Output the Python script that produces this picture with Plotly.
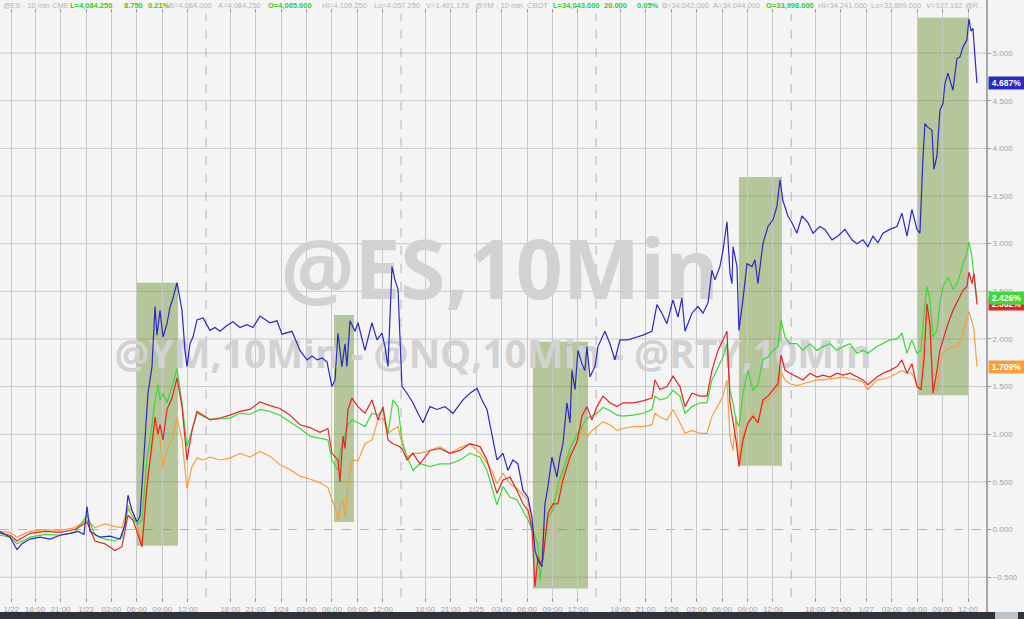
import plotly.graph_objects as go

# ---- time axis: trading hours since 1/23 00:00 (the 17:00-18:00 break is removed) ----
x_tick_hours = [-8.8, -6, -3, 0, 3, 6, 9, 12, 17, 20, 23, 26, 29, 32, 35, 40, 43, 46, 49, 52, 55, 58,
                63, 66, 69, 72, 75, 78, 81, 86, 89, 92, 95, 98, 101, 104]
x_tick_labels = ["1/22", "18:00", "21:00", "1/23", "03:00", "06:00", "09:00", "12:00", "18:00", "21:00",
                 "1/24", "03:00", "06:00", "09:00", "12:00", "18:00", "21:00",
                 "1/25", "03:00", "06:00", "09:00", "12:00", "18:00", "21:00",
                 "1/26", "03:00", "06:00", "09:00", "12:00", "18:00", "21:00",
                 "1/27", "03:00", "06:00", "09:00", "12:00"]
session_break_hours = [14.15, 37.15, 60.15, 83.15]
y_tick_values = [-0.5, 0.0, 0.5, 1.0, 1.5, 2.0, 2.5, 3.0, 3.5, 4.0, 4.5, 5.0]

# ---- @ES (blue) ----
es_hours = [-10.14, -9.55, -8.96, -8.14, -7.55, -6.60, -5.42, -4.24, -3.07, -1.89, -0.94, -0.24, 0.12, 0.47,
            1.06, 1.65, 2.83, 4.01, 4.60, 4.95, 5.42, 6.01, 6.37, 6.72, 7.07, 7.31, 7.78, 8.14, 8.37, 8.73,
            9.08, 9.55, 9.90, 10.26, 10.73, 11.32, 11.67, 11.91, 12.26, 12.62, 13.09, 13.80, 14.62, 15.21,
            15.80, 16.62, 17.33, 18.16, 18.98, 19.69, 20.52, 21.69, 22.52, 23.11, 24.29, 25.23, 26.06, 26.65,
            27.24, 27.83, 28.42, 29.00, 29.36, 29.71, 30.18, 30.54, 30.77, 31.13, 31.72, 32.07, 32.89, 33.72,
            34.31, 34.90, 35.25, 35.61, 36.08, 36.43, 36.79, 37.26, 37.85, 38.55, 39.14, 39.73, 40.56, 41.38,
            42.33, 43.27, 44.45, 45.27, 46.10, 46.69, 47.28, 47.87, 48.46, 49.17, 49.75, 50.34, 50.93, 51.52,
            52.11, 52.58, 52.94, 53.29, 53.76, 54.12, 54.47, 54.94, 55.53, 55.89, 56.24, 56.71, 57.07, 57.30,
            57.66, 58.01, 58.48, 58.83, 59.07, 59.42, 60.01, 60.37, 61.19, 61.78, 62.37, 62.96, 63.90, 64.97,
            65.67, 66.73, 67.32, 67.91, 68.50, 69.21, 69.80, 70.27, 70.63, 71.45, 72.16, 72.75, 73.34, 73.81,
            74.16, 74.75, 75.11, 75.58, 75.93, 76.17, 76.29, 76.76, 76.99, 77.46, 77.94, 78.53, 78.88, 79.23,
            79.82, 80.41, 81.00, 81.47, 81.83, 82.18, 82.77, 83.24, 83.83, 84.42, 85.13, 85.72, 86.54, 87.13,
            87.96, 88.66, 89.49, 90.31, 90.90, 91.61, 92.20, 92.79, 93.38, 93.97, 94.79, 95.62, 96.21, 96.80,
            97.39, 97.98, 98.33, 98.68, 98.92, 99.28, 99.75, 99.98, 100.34, 100.69, 101.05, 101.28, 101.63,
            102.22, 102.69, 103.05, 103.40, 103.87, 104.11, 104.35, 104.58, 105.05]
es_values = [-0.02, -0.05, -0.08, -0.21, -0.15, -0.10, -0.08, -0.10, -0.06, -0.04, -0.02, -0.05, 0.24, -0.02,
             -0.05, -0.08, -0.07, -0.10, 0.05, 0.36, 0.20, 0.08, 0.14, 0.66, 1.08, 1.43, 1.71, 2.34, 2.04, 2.30,
             2.02, 2.16, 2.33, 2.43, 2.59, 2.30, 1.88, 1.71, 1.95, 2.02, 2.20, 2.22, 2.09, 2.12,
             2.08, 2.14, 2.18, 2.12, 2.15, 2.12, 2.24, 2.17, 2.19, 2.05, 2.08, 1.88, 1.78, 1.82,
             1.78, 1.80, 1.76, 1.50, 1.57, 2.06, 1.71, 1.95, 1.71, 2.19, 2.08, 2.17, 1.88, 2.17,
             1.99, 2.06, 1.92, 1.71, 2.76, 2.62, 2.52, 1.50, 1.43, 1.33, 1.22, 1.12, 1.29, 1.26,
             1.29, 1.22, 1.36, 1.43, 1.48, 1.36, 1.26, 1.01, 0.73, 0.80, 0.62, 0.73, 0.69, 0.41,
             0.34, 0.13, -0.22, -0.32, -0.39, 0.27, 0.45, 0.76, 0.55, 0.76, 0.90, 1.33, 1.12, 1.67,
             1.47, 1.88, 1.74, 1.67, 1.92, 1.60, 1.71, 1.92, 2.08, 1.95, 1.78, 1.99, 1.99, 2.02,
             2.04, 2.08, 2.36, 2.27, 2.16, 2.41, 2.23, 2.43, 2.08, 2.27, 2.34, 2.27, 2.38, 2.72,
             2.62, 2.76, 2.93, 3.23, 2.69, 2.58, 2.97, 2.76, 2.09, 2.41, 2.79, 2.76, 2.83, 2.58,
             3.00, 3.18, 3.25, 3.39, 3.67, 3.45, 3.29, 3.22, 3.11, 3.29, 3.22, 3.11, 3.18, 3.15,
             3.04, 3.08, 3.15, 3.04, 3.00, 3.04, 2.97, 3.08, 3.01, 3.11, 3.15, 3.18, 3.32, 3.08,
             3.36, 3.15, 3.11, 3.88, 4.26, 4.22, 4.19, 3.78, 3.92, 4.40, 4.47, 4.68, 4.79,
             4.61, 4.94, 4.96, 5.06, 5.14, 5.36, 5.23, 5.26, 4.687]

# ---- @YM (red), @NQ (green), @RTY (orange) share one time grid ----
other_hours = [-10.14, -8.96, -8.14, -6.60, -4.83, -3.07, -1.30, 0.12, 1.06, 2.24, 3.42, 4.24, 4.95, 5.54,
               6.01, 6.60, 7.19, 7.55, 7.90, 8.14, 8.49, 8.73, 9.08, 9.55, 10.14, 10.73, 11.32, 11.91, 12.50,
               13.09, 13.80, 14.62, 15.80, 16.98, 18.16, 19.34, 20.52, 21.69, 22.87, 24.05, 25.23, 26.41,
               27.59, 28.53, 29.00, 29.36, 29.71, 29.95, 30.30, 30.54, 30.89, 31.36, 32.07, 32.90, 33.72,
               34.43, 35.02, 35.61, 36.20, 36.79, 37.26, 37.85, 38.56, 39.38, 40.56, 41.74, 42.92, 44.10,
               45.28, 46.46, 47.28, 47.87, 48.46, 49.17, 49.99, 50.82, 51.53, 52.12, 52.59, 52.94, 53.30,
               53.53, 53.88, 54.47, 55.06, 55.65, 56.24, 57.07, 57.90, 58.48, 59.07, 59.66, 60.25, 60.96,
               61.78, 62.61, 63.32, 64.50, 65.68, 66.74, 67.09, 67.68, 68.51, 69.21, 70.04, 70.63, 71.45,
               72.40, 73.22, 73.81, 74.52, 75.11, 75.58, 75.94, 76.29, 76.64, 77.00, 77.47, 78.06, 78.65,
               79.24, 79.82, 80.41, 81.00, 81.59, 81.95, 82.42, 83.01, 83.83, 84.54, 85.37, 86.19, 86.90,
               87.73, 88.55, 89.26, 90.09, 90.91, 91.62, 92.21, 93.27, 93.97, 94.80, 95.63, 96.21, 96.80,
               97.39, 97.98, 98.45, 98.81, 99.16, 99.51, 99.87, 100.34, 100.69, 101.05, 101.64, 102.23,
               102.82, 103.41, 103.88, 104.11, 104.47, 104.70, 105.06]
ym_values = [-0.04, -0.06, -0.12, -0.04, -0.02, -0.03, 0.00, 0.08, -0.12, -0.15, -0.22, -0.18, 0.15, 0.10,
             -0.02, -0.18, 0.45, 0.73, 0.95, 1.18, 1.00, 1.10, 0.94, 1.26, 1.38, 1.59, 1.29, 0.73, 1.04,
             1.24, 1.20, 1.15, 1.17, 1.20, 1.24, 1.26, 1.34, 1.30, 1.27, 1.20, 1.10, 1.07,
             1.02, 1.06, 0.80, 0.76, 0.73, 0.50, 0.98, 0.85, 1.26, 1.38, 1.29, 1.22, 1.36,
             1.15, 1.29, 0.94, 0.90, 0.88, 0.85, 0.73, 0.80, 0.69, 0.83, 0.85, 0.80, 0.83,
             0.90, 0.87, 0.73, 0.55, 0.38, 0.52, 0.55, 0.41, 0.27, 0.20, 0.00, -0.60, -0.29,
             -0.35, -0.32, 0.17, 0.27, 0.27, 0.52, 0.76, 0.92, 1.19, 1.29, 1.15, 1.29, 1.40,
             1.33, 1.29, 1.33, 1.33, 1.35, 1.38, 1.57, 1.47, 1.50, 1.61, 1.50, 1.29, 1.43,
             1.40, 1.40, 1.67, 1.88, 1.99, 2.08, 1.33, 1.12, 0.94, 0.66, 0.94, 1.12, 1.19,
             1.12, 1.36, 1.40, 1.47, 1.53, 1.83, 1.67, 1.64, 1.60, 1.57, 1.64, 1.60, 1.62,
             1.60, 1.64, 1.62, 1.64, 1.60, 1.57, 1.52, 1.60, 1.64, 1.67, 1.71, 1.78, 1.64,
             1.74, 1.50, 1.47, 1.78, 2.37, 2.16, 1.43, 1.67, 1.88, 1.99, 2.16, 2.30,
             2.41, 2.51, 2.55, 2.70, 2.58, 2.69, 2.362]
nq_values = [-0.06, -0.08, -0.15, -0.08, -0.05, -0.06, -0.03, 0.15, -0.06, -0.10, -0.12, -0.08, 0.22, 0.12,
             0.05, 0.10, 0.75, 0.95, 1.22, 1.35, 1.52, 1.36, 1.43, 1.33, 1.50, 1.69, 1.33, 0.87, 1.04,
             1.22, 1.19, 1.16, 1.16, 1.17, 1.22, 1.21, 1.26, 1.24, 1.20, 1.13, 1.06, 0.98,
             0.96, 0.94, 0.73, 0.68, 0.62, 0.80, 0.94, 1.00, 1.10, 1.15, 1.12, 1.08, 1.22,
             1.20, 1.26, 1.01, 1.36, 1.29, 0.94, 0.76, 0.62, 0.69, 0.66, 0.69, 0.69, 0.73,
             0.80, 0.76, 0.62, 0.45, 0.26, 0.45, 0.34, 0.31, 0.20, 0.10, 0.00, -0.08, -0.15,
             -0.53, -0.29, 0.13, 0.20, 0.48, 0.62, 0.85, 1.00, 1.08, 1.17, 1.19, 1.22, 1.28,
             1.25, 1.20, 1.19, 1.20, 1.22, 1.26, 1.40, 1.36, 1.38, 1.46, 1.40, 1.22, 1.29,
             1.33, 1.33, 1.57, 1.70, 1.81, 1.95, 1.46, 1.33, 1.15, 1.08, 1.43, 1.67, 1.46,
             1.53, 1.78, 1.81, 1.88, 1.92, 2.20, 2.02, 1.95, 1.95, 1.88, 1.95, 1.88, 1.92,
             1.95, 1.88, 1.92, 1.95, 1.85, 1.88, 1.85, 1.92, 1.95, 1.99, 2.00, 2.06, 1.85,
             1.99, 1.85, 1.88, 2.27, 2.55, 2.41, 2.02, 2.09, 2.37, 2.55, 2.65, 2.52,
             2.60, 2.79, 2.90, 3.02, 2.86, 2.65, 2.426]
rty_values = [-0.02, -0.03, -0.08, -0.02, 0.00, -0.01, 0.02, 0.10, 0.02, 0.06, 0.03, 0.02, 0.25, 0.18,
              0.05, -0.15, 0.55, 0.72, 0.87, 1.12, 1.00, 0.94, 0.66, 0.84, 0.94, 1.18, 0.94, 0.43, 0.66,
              0.75, 0.73, 0.76, 0.73, 0.75, 0.80, 0.76, 0.82, 0.77, 0.68, 0.63, 0.56, 0.53,
              0.49, 0.44, 0.31, 0.24, 0.10, 0.25, 0.31, 0.13, 0.45, 0.73, 0.72, 0.90, 0.94,
              1.15, 1.17, 1.01, 1.05, 1.08, 0.90, 0.76, 0.80, 0.80, 0.83, 0.87, 0.80, 0.86,
              0.90, 0.80, 0.70, 0.62, 0.48, 0.59, 0.48, 0.43, 0.36, 0.31, 0.03, -0.05, -0.22,
              -0.32, -0.10, 0.10, 0.27, 0.38, 0.59, 0.80, 0.90, 1.08, 0.97, 1.04, 1.08, 1.13,
              1.10, 1.04, 1.06, 1.08, 1.08, 1.10, 1.22, 1.18, 1.15, 1.26, 1.12, 1.01, 1.04,
              1.01, 1.01, 1.19, 1.30, 1.40, 1.57, 0.97, 0.83, 1.19, 0.69, 1.01, 1.12, 1.22,
              1.12, 1.33, 1.36, 1.42, 1.47, 1.66, 1.57, 1.53, 1.51, 1.53, 1.55, 1.57, 1.57,
              1.58, 1.59, 1.60, 1.58, 1.57, 1.55, 1.47, 1.57, 1.58, 1.60, 1.64, 1.67, 1.64,
              1.64, 1.53, 1.50, 1.95, 2.30, 2.09, 1.53, 1.45, 1.74, 1.85, 1.90, 1.92,
              1.92, 2.06, 2.20, 2.29, 2.18, 2.10, 1.709]

for name, xs, ys in [("es", es_hours, es_values), ("ym", other_hours, ym_values),
                     ("nq", other_hours, nq_values), ("rty", other_hours, rty_values)]:
    if len(xs) != len(ys):
        raise ValueError(f"{name}: {len(xs)} times vs {len(ys)} values")

# ---- highlighted windows (start hour, end hour, low %, high %) ----
hl_start = [5.90, 29.24, 52.70, 76.99, 98.10]
hl_end = [10.85, 31.60, 59.19, 82.06, 104.00]
hl_low = [-0.17, 0.08, -0.62, 0.67, 1.41]
hl_high = [2.59, 2.25, 1.97, 3.70, 5.37]

series_names = ["@RTY", "@NQ", "@YM", "@ES"]
series_colors = {"@ES": "#2a2ac2", "@YM": "#e02626", "@NQ": "#3cd83c", "@RTY": "#f2a040"}
last_labels = {"@ES": "4.687%", "@NQ": "2.426%", "@YM": "2.362%", "@RTY": "1.709%"}
last_values = {"@ES": 4.687, "@NQ": 2.426, "@YM": 2.362, "@RTY": 1.709}

header_texts = ["@ES - 10 min", "CME", "L=4,084.250", "8.750", "0.21%", "B=4,084.000", "A=4,084.250",
                "O=4,065.000", "Hi=4,109.250", "Lo=4,057.250", "V=1,491,179", "@YM - 10 min", "CBOT",
                "L=34,043.000", "20.000", "0.05%", "B=34,042.000", "A=34,044.000", "O=33,998.000",
                "Hi=34,241.000", "Lo=33,899.000", "V=137,162", "@R…"]
header_green = [False, False, True, True, True, False, False, True, False, False, False, False, False,
                True, True, True, False, False, True, False, False, False, False]
header_px = [1, 50, 68, 122, 146, 167, 216, 266, 320, 372, 424, 473, 525, 551, 602, 635, 660, 711, 764,
             816, 869, 924, 963]

W, H = 1024, 619
ML, MR, MT, MB = 0, 37, 14, 22
PW, PH = W - ML - MR, H - MT - MB

fig = go.Figure()

# watermark text, under the lines
fig.add_trace(go.Scatter(
    x=[48.8, 48.0], y=[2.63, 1.80], mode="text",
    text=["<b>@ES,10Min</b>", "<b>@YM,10Min - @NQ,10Min - @RTY,10Min</b>"],
    textfont=dict(family="Open Sans", size=[82, 39], color="#d2d2d2"),
    hoverinfo="skip", showlegend=False, cliponaxis=False))

series_data = {"@ES": (es_hours, es_values), "@YM": (other_hours, ym_values),
               "@NQ": (other_hours, nq_values), "@RTY": (other_hours, rty_values)}
for name in series_names:
    xs, ys = series_data[name]
    fig.add_trace(go.Scatter(x=xs, y=ys, mode="lines", name=name,
                             line=dict(color=series_colors[name], width=1.2),
                             hoverinfo="skip", showlegend=False))

shapes = []
# horizontal grid (0% dashed)
for v in y_tick_values:
    shapes.append(dict(type="line", xref="paper", yref="y", x0=0, x1=1, y0=v, y1=v, layer="below",
                       line=dict(color="#b4b4b4" if v == 0 else "#c8c8c8", width=1,
                                 dash="dash" if v == 0 else "solid")))
# session break lines
for h in session_break_hours:
    shapes.append(dict(type="line", xref="x", yref="paper", x0=h, x1=h, y0=0, y1=1, layer="below",
                       line=dict(color="#b4b4b4", width=1, dash="dash")))
# highlight boxes
for a, b, lo, hi in zip(hl_start, hl_end, hl_low, hl_high):
    shapes.append(dict(type="rect", xref="x", yref="y", x0=a, x1=b, y0=lo, y1=hi, layer="below",
                       line=dict(width=0), fillcolor="rgba(104,142,44,0.45)"))
# right axis line through header
shapes.append(dict(type="line", xref="paper", yref="paper", x0=1, x1=1, y0=-MB / PH * 0.7, y1=1 + MT / PH,
                   line=dict(color="#5a5a5a", width=1), layer="above"))
# bottom scroll bar
shapes.append(dict(type="rect", xref="paper", yref="paper", x0=0, x1=W / PW, y0=-MB / PH, y1=-15 / PH,
                   line=dict(width=0), fillcolor="#2e343c", layer="above"))
shapes.append(dict(type="rect", xref="paper", yref="paper", x0=995 / PW, x1=1018 / PW, y0=-MB / PH,
                   y1=-15 / PH, line=dict(width=0), fillcolor="#bfc3c7", layer="above"))

annotations = []
for txt, green, px in zip(header_texts, header_green, header_px):
    annotations.append(dict(
        xref="paper", yref="paper", x=px / PW, y=1 + 8 / PH, xanchor="left", yanchor="middle",
        text=f"<b>{txt}</b>" if green else txt, showarrow=False,
        font=dict(family="Arial", size=7.5, color="#33cc33" if green else "#b4b4b4")))

for name in ["@RTY", "@YM", "@NQ", "@ES"]:
    annotations.append(dict(
        xref="paper", yref="y", x=1, y=last_values[name], xanchor="left", yanchor="middle", xshift=1,
        text=f"<b>{last_labels[name]}</b>", showarrow=False, bgcolor=series_colors[name],
        font=dict(family="Arial", size=8.5, color="white"), borderpad=1, width=33, align="center"))

fig.update_layout(
    width=W, height=H,
    margin=dict(l=ML, r=MR, t=MT, b=MB, pad=0),
    paper_bgcolor="#f4f4f4", plot_bgcolor="#f4f4f4",
    showlegend=False,
    shapes=shapes, annotations=annotations,
    xaxis=dict(range=[-10.14, 106.24], tickmode="array", tickvals=x_tick_hours, ticktext=x_tick_labels,
               showgrid=True, gridcolor="#c8c8c8", gridwidth=1, zeroline=False, showline=False,
               ticks="outside", ticklen=4, tickcolor="#9a9a9a", mirror="ticks",
               tickfont=dict(family="Arial", size=8, color="#a4a4a4"), fixedrange=True),
    yaxis=dict(side="right", range=[-0.708, 5.41], tickmode="array", tickvals=y_tick_values,
               tickformat=".3f", ticksuffix="%", showgrid=False, zeroline=False, showline=False,
               ticks="outside", ticklen=3, tickcolor="#9a9a9a",
               tickfont=dict(family="Arial", size=8, color="#a4a4a4"), fixedrange=True),
)

fig.write_html("out.html", config={"displayModeBar": False},
               post_script="document.body.style.margin='0';document.body.style.overflow='hidden';")
